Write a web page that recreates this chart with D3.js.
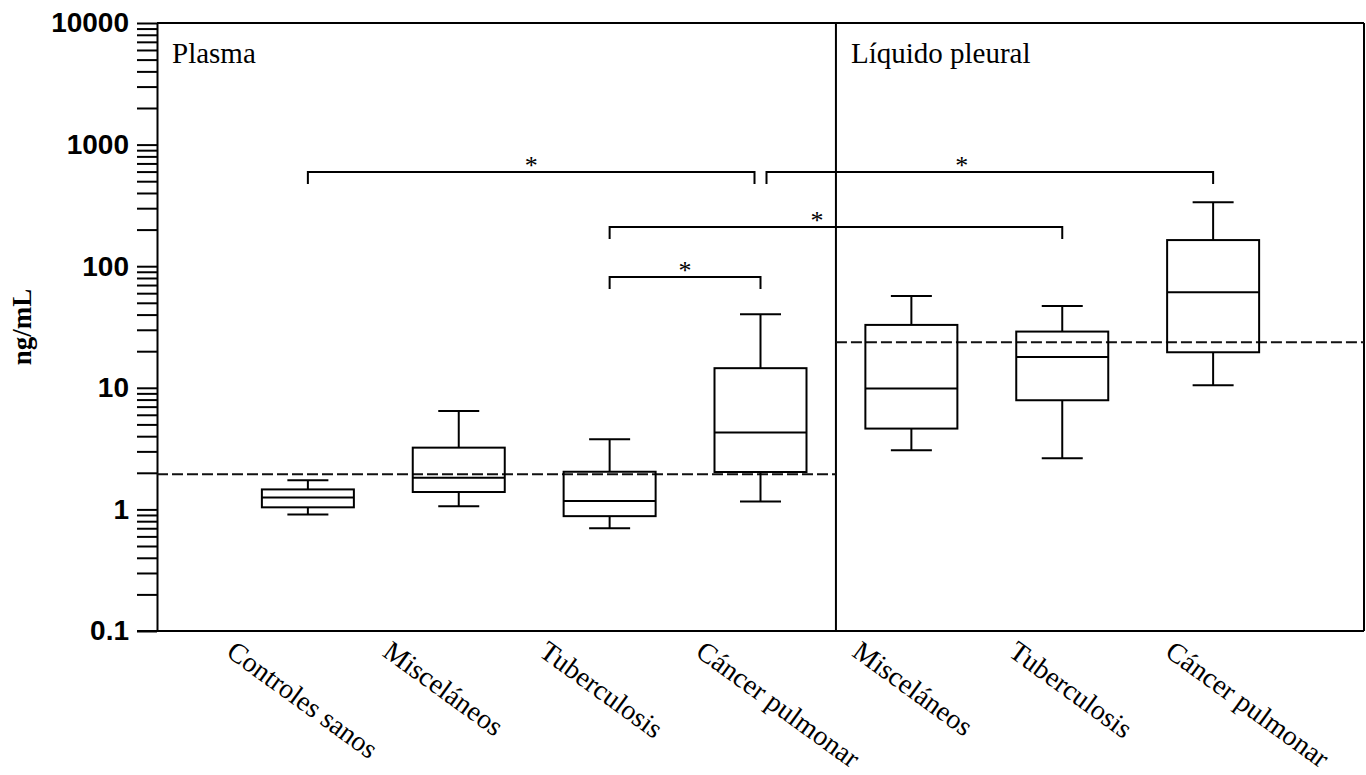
<!DOCTYPE html>
<html>
<head>
<meta charset="utf-8">
<script src="https://cdn.jsdelivr.net/npm/d3@7"></script>
<style>
  body { margin: 0; background: #fff; }
</style>
</head>
<body>
<div id="chart"></div>
<script>
// values (log scale, ng/mL)
const groups = ['Controles sanos', 'Misceláneos', 'Tuberculosis', 'Cáncer pulmonar', 'Misceláneos', 'Tuberculosis', 'Cáncer pulmonar'];
const panels = ['Plasma', 'Líquido pleural'];

const whiskerLow  = [0.91, 1.06, 0.70, 1.16, 3.06, 2.63, 10.5];
const q1          = [1.04, 1.39, 0.88, 2.03, 4.62, 7.9, 19.6];
const median      = [1.25, 1.82, 1.17, 4.28, 9.85, 17.9, 61];
const q3          = [1.46, 3.22, 2.04, 14.5, 32.9, 29, 164];
const whiskerHigh = [1.74, 6.44, 3.77, 40.3, 57, 47.1, 336];

// dashed cut-off line per panel
const cutoffs = [1.95, 23.7];

// significance brackets (group index from / to, height in ng/mL)
const brackets = [
  {from: 0, to: 3, level: 595},
  {from: 3, to: 6, level: 595},
  {from: 2, to: 5, level: 210},
  {from: 2, to: 3, level: 81.6}
];

const yMajor = [0.1, 1, 10, 100, 1000, 10000];
const yMajorLabels = ['0.1', '1', '10', '100', '1000', '10000'];

const width = 1366;
const height = 775;
const margin = {top: 23, right: 2, bottom: 144, left: 157};

const svg = d3.select('#chart')
  .append('svg')
    .attr('width', width)
    .attr('height', height);

const y = d3.scaleLog()
  .domain([0.1, 10000])
  .range([height - margin.bottom, margin.top]);

const x = d3.scalePoint()
  .domain(d3.range(groups.length))
  .range([margin.left, width - margin.right])
  .padding(1);

const x0 = margin.left;
const x1 = width - margin.right;
const yTop = margin.top;
const yBot = height - margin.bottom;
const divider = (x(3) + x(4)) / 2;
const panelX = [[x0, divider], [divider, x1]];

// y axis, outward ticks on every 1..9 subdivision
const yAxis = d3.axisLeft(y)
  .tickValues(y.ticks())
  .tickSize(20)
  .tickSizeOuter(0)
  .tickPadding(8)
  .tickFormat(d => {
    const i = yMajor.findIndex(m => Math.abs(m - d) / m < 1e-6);
    return i >= 0 ? yMajorLabels[i] : '';
  });

const gy = svg.append('g')
  .attr('transform', `translate(${x0},0)`)
  .call(yAxis);
gy.selectAll('line').attr('stroke', '#000').attr('stroke-width', 2);
gy.select('.domain').attr('stroke', '#000').attr('stroke-width', 2);
gy.selectAll('text')
  .attr('font-family', '"Liberation Sans", Arial, sans-serif')
  .attr('font-weight', 'bold')
  .attr('font-size', '28px')
  .attr('fill', '#000');

// frame: top, right, bottom, panel divider
const frame = svg.append('g').attr('stroke', '#000').attr('stroke-width', 2);
frame.append('line').attr('x1', x0).attr('x2', x1).attr('y1', yTop).attr('y2', yTop);
frame.append('line').attr('x1', x1).attr('x2', x1).attr('y1', yTop).attr('y2', yBot);
frame.append('line').attr('x1', x0 - 20).attr('x2', x1).attr('y1', yBot).attr('y2', yBot);
frame.append('line').attr('x1', divider).attr('x2', divider).attr('y1', yTop).attr('y2', yBot);

// y axis title
svg.append('text')
  .attr('transform', `translate(31, ${(yTop + yBot) / 2}) rotate(-90)`)
  .attr('text-anchor', 'middle')
  .attr('font-family', '"Liberation Serif", "Times New Roman", serif')
  .attr('font-weight', 'bold')
  .attr('font-size', '27px')
  .text('ng/mL');

// panel titles
svg.selectAll('.panel-title')
  .data(panels)
  .join('text')
    .attr('class', 'panel-title')
    .attr('x', (d, i) => panelX[i][0] + 15)
    .attr('y', yTop + 40)
    .attr('font-family', '"Liberation Serif", "Times New Roman", serif')
    .attr('font-size', '29px')
    .text(d => d);

// dashed cut-off lines
svg.selectAll('.cutoff')
  .data(cutoffs)
  .join('line')
    .attr('class', 'cutoff')
    .attr('x1', (d, i) => panelX[i][0])
    .attr('x2', (d, i) => panelX[i][1])
    .attr('y1', d => y(d))
    .attr('y2', d => y(d))
    .attr('stroke', '#111')
    .attr('stroke-width', 2)
    .attr('stroke-dasharray', '11,4');

// box plots
const boxW = 92;
const capW = 41;
const boxes = svg.append('g')
  .attr('fill', 'none')
  .attr('stroke', '#000')
  .attr('stroke-width', 2);

groups.forEach((g, i) => {
  const cx = x(i);
  const b = boxes.append('g');
  // whisker stems
  b.append('line').attr('x1', cx).attr('x2', cx).attr('y1', y(whiskerHigh[i])).attr('y2', y(q3[i]));
  b.append('line').attr('x1', cx).attr('x2', cx).attr('y1', y(q1[i])).attr('y2', y(whiskerLow[i]));
  // caps
  [whiskerHigh[i], whiskerLow[i]].forEach(v => {
    b.append('line')
      .attr('x1', cx - capW / 2).attr('x2', cx + capW / 2)
      .attr('y1', y(v)).attr('y2', y(v));
  });
  b.append('rect')
    .attr('x', cx - boxW / 2)
    .attr('y', y(q3[i]))
    .attr('width', boxW)
    .attr('height', y(q1[i]) - y(q3[i]));
  b.append('line')
    .attr('x1', cx - boxW / 2).attr('x2', cx + boxW / 2)
    .attr('y1', y(median[i])).attr('y2', y(median[i]));
});

// significance brackets; brackets meeting at the same group/level are pulled apart a little
const starNudge = [0, -28, -19, 0];
const br = svg.append('g');
brackets.forEach((d, k) => {
  let xa = x(d.from);
  let xb = x(d.to);
  brackets.forEach((o, j) => {
    if (j === k || o.level !== d.level) return;
    if (o.from === d.to) xb -= 6;
    if (o.to === d.from) xa += 6;
  });
  const yy = y(d.level);
  br.append('path')
    .attr('d', `M${xa},${yy + 12}V${yy}H${xb}V${yy + 12}`)
    .attr('fill', 'none')
    .attr('stroke', '#000')
    .attr('stroke-width', 2);
  br.append('text')
    .attr('x', (xa + xb) / 2 + starNudge[k])
    .attr('y', yy + 2)
    .attr('text-anchor', 'middle')
    .attr('font-family', '"Liberation Serif", "Times New Roman", serif')
    .attr('font-size', '26px')
    .text('*');
});

// rotated category labels
svg.selectAll('.cat')
  .data(groups)
  .join('text')
    .attr('class', 'cat')
    .attr('transform', (d, i) => `translate(${x(i) - 83 + 5.6 * i}, ${yBot + 24}) rotate(36)`)
    .attr('font-family', '"Liberation Serif", "Times New Roman", serif')
    .attr('font-size', '28px')
    .text(d => d);
</script>
</body>
</html>
